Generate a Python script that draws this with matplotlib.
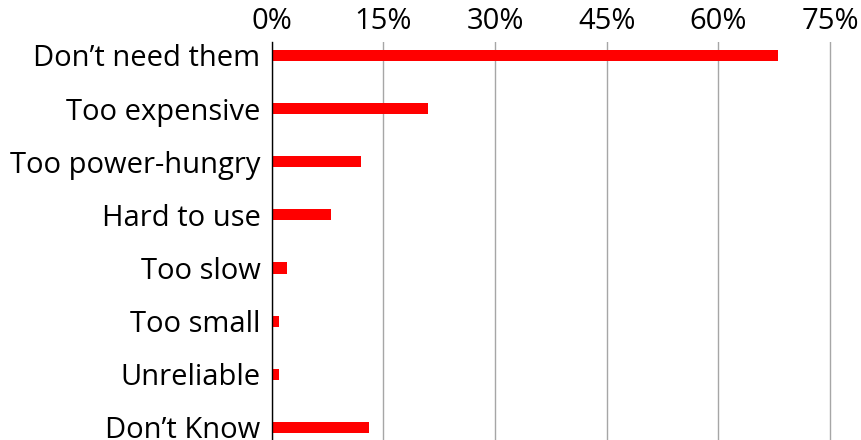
import matplotlib.pyplot as plt
from matplotlib.ticker import FuncFormatter

reasons = ["Don’t need them", "Too expensive", "Too power-hungry", "Hard to use",
           "Too slow", "Too small", "Unreliable", "Don’t Know"]
shares = [68, 21, 12, 8, 2, 1, 1, 13]
ticks = [0, 15, 30, 45, 60, 75]

plt.rcParams['font.family'] = ['Open Sans', 'DejaVu Sans']

fig = plt.figure(figsize=(8.61, 4.40), dpi=100)
# x range runs a hair past 75 so the last gridline is not clipped
ax = fig.add_axes([0.3156, 0.0, (831.5 - 271.7) / 861, 1 - 42 / 440])

ax.barh(range(len(reasons)), shares, height=0.21, color='#ff0000', zorder=3)

ax.set_xlim(0, 75.2)
ax.set_ylim(7.236, -0.254)
ax.set_xticks(ticks)
ax.xaxis.set_major_formatter(FuncFormatter(lambda v, p: f"{v:.0f}%"))
ax.xaxis.tick_top()
ax.set_yticks(range(len(reasons)))
ax.set_yticklabels(reasons)
ax.tick_params(axis='x', length=0, pad=4, labelsize=21)
ax.tick_params(axis='y', length=0, pad=8, labelsize=21)

ax.grid(axis='x', color='#a6a6a6', linewidth=1, zorder=0)
for s in ['top', 'right', 'bottom']:
    ax.spines[s].set_visible(False)
ax.spines['left'].set_color('black')
ax.spines['left'].set_linewidth(1)
ax.spines['left'].set_zorder(4)

fig.savefig('out.png', dpi=100)
